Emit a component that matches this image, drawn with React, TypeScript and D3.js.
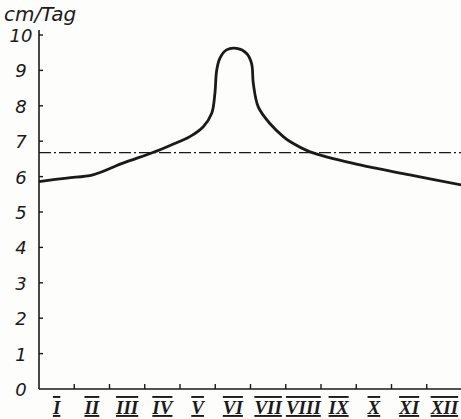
import { useEffect, useRef } from "react";
import * as d3 from "d3";

// month labels along the bottom
const months = ["I", "II", "III", "IV", "V", "VI", "VII", "VIII", "IX", "X", "XI", "XII"];
const yTicks = [0, 1, 2, 3, 4, 5, 6, 7, 8, 9, 10];

// curve: position in months from the axis start, cm/Tag
const curveMonth = [0, 0.79, 1.53, 2.38, 3.23, 3.72, 4.28, 4.66, 4.9, 4.99, 5.04, 5.13, 5.32, 5.61, 5.89, 6.03, 6.08, 6.22, 6.55, 6.93, 7.12, 7.69, 9.11, 10.52, 12];
const curveValue = [5.86, 5.96, 6.05, 6.38, 6.68, 6.88, 7.13, 7.41, 7.79, 8.35, 9.0, 9.34, 9.58, 9.62, 9.48, 9.2, 8.63, 7.97, 7.5, 7.13, 6.99, 6.7, 6.33, 6.05, 5.76];

// the dash-dot reference level
const meanLevel = 6.68;

const App = () => {
  const svgRef = useRef<SVGSVGElement | null>(null);

  useEffect(() => {
    const svg = d3.select(svgRef.current);
    svg.selectAll("*").remove();

    const width = 461;
    const height = 419;
    const left = 39;
    const right = 462;
    const top = 35;
    const bottom = 389;
    const ink = "#1a1a1a";

    svg.attr("width", width).attr("height", height);
    svg.append("rect").attr("width", width).attr("height", height).attr("fill", "#fdfdfc");

    const x = d3.scaleLinear().domain([0, 12]).range([left, right]);
    const y = d3.scaleLinear().domain([0, 10]).range([bottom, top]);

    // axes
    svg.append("line")
      .attr("x1", left).attr("x2", left).attr("y1", 30).attr("y2", bottom)
      .attr("stroke", ink).attr("stroke-width", 1.6);
    svg.append("line")
      .attr("x1", left).attr("x2", right).attr("y1", bottom).attr("y2", bottom)
      .attr("stroke", ink).attr("stroke-width", 1.6);

    svg.selectAll(".ytick")
      .data(yTicks.filter((d) => d > 0))
      .enter()
      .append("line")
      .attr("x1", left).attr("x2", left + 4)
      .attr("y1", (d) => y(d)).attr("y2", (d) => y(d))
      .attr("stroke", ink).attr("stroke-width", 1.4);

    svg.selectAll(".ylab")
      .data(yTicks)
      .enter()
      .append("text")
      .attr("x", 21)
      .attr("y", (d) => y(d) + 7)
      .attr("text-anchor", "middle")
      .style("font-family", "'DejaVu Sans', sans-serif")
      .style("font-style", "italic")
      .style("font-size", "18px")
      .attr("fill", ink)
      .text((d) => d);

    svg.append("text")
      .attr("x", 4)
      .attr("y", 21)
      .style("font-family", "'DejaVu Sans', sans-serif")
      .style("font-style", "italic")
      .style("font-size", "20px")
      .attr("fill", ink)
      .text("cm/Tag");

    const monthTicks = d3.range(1, 12);
    svg.selectAll(".xtick")
      .data(monthTicks)
      .enter()
      .append("line")
      .attr("x1", (d) => x(d)).attr("x2", (d) => x(d))
      .attr("y1", bottom).attr("y2", bottom - 5)
      .attr("stroke", ink).attr("stroke-width", 1.4);

    svg.selectAll(".xlab")
      .data(months)
      .enter()
      .append("text")
      .attr("x", (_, i) => x(i + 0.5))
      .attr("y", 414)
      .attr("text-anchor", "middle")
      .style("font-family", "'Liberation Serif', serif")
      .style("font-style", "italic")
      .style("font-weight", "bold")
      .style("font-size", "19px")
      .style("text-decoration", "underline overline")
      .attr("fill", ink)
      .text((d) => d);

    // dash-dot level
    svg.append("line")
      .attr("x1", left).attr("x2", right)
      .attr("y1", y(meanLevel)).attr("y2", y(meanLevel))
      .attr("stroke", ink).attr("stroke-width", 1.3)
      .attr("stroke-dasharray", "12,3,2,3");

    const pts = curveMonth.map((m, i) => [m, curveValue[i]] as [number, number]);
    const line = d3
      .line<[number, number]>()
      .x((d) => x(d[0]))
      .y((d) => y(d[1]))
      .curve(d3.curveCatmullRom.alpha(0.5));

    svg.append("path")
      .datum(pts)
      .attr("fill", "none")
      .attr("stroke", ink)
      .attr("stroke-width", 2.8)
      .attr("stroke-linejoin", "round")
      .attr("d", line);
  }, []);

  return <svg ref={svgRef} style={{ position: "absolute", left: 0, top: 0 }} />;
};

export default App;
